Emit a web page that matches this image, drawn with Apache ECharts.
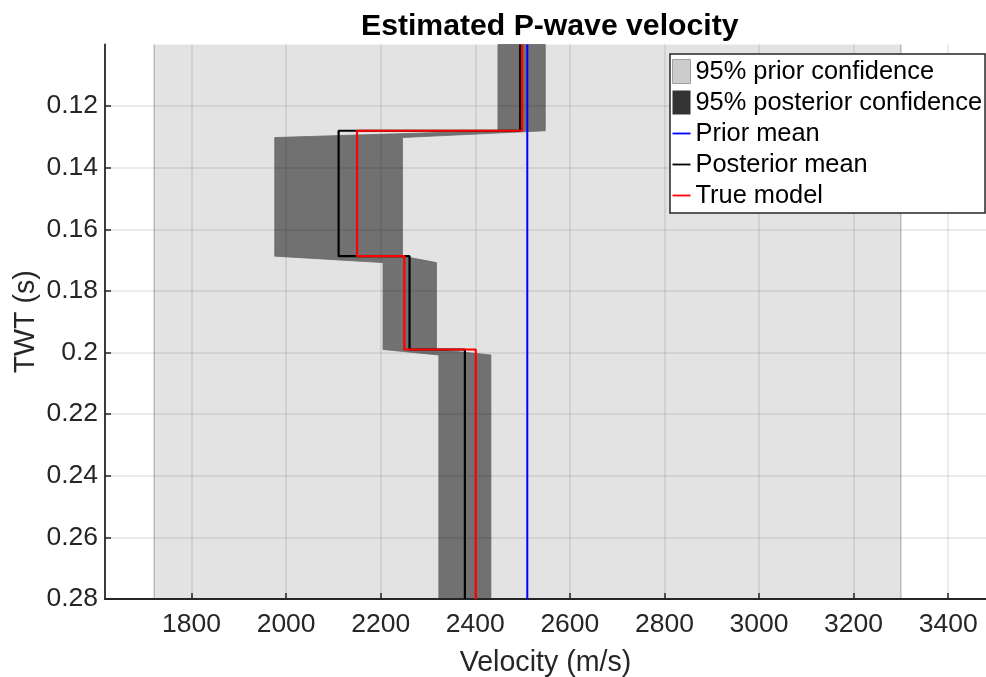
<!DOCTYPE html>
<html>
<head>
<meta charset="utf-8">
<script src="https://cdn.jsdelivr.net/npm/echarts@6/dist/echarts.min.js"></script>
<style>
  html, body { margin: 0; padding: 0; background: #fff; }
  #chart { width: 986px; height: 677px; }
</style>
</head>
<body>
<div id="chart"></div>
<script>
// ---- Data ----
const velocityTicks = [1800, 2000, 2200, 2400, 2600, 2800, 3000, 3200, 3400];
const twtTicks = [0.12, 0.14, 0.16, 0.18, 0.20, 0.22, 0.24, 0.26, 0.28];
const twtTickLabels = ['0.12', '0.14', '0.16', '0.18', '0.2', '0.22', '0.24', '0.26', '0.28'];

const priorLow = 1721;
const priorHigh = 3300;
const priorMean = 2510;

// layer boundaries (TWT, s) for the stair-step models
const layerTop = [0.100, 0.128, 0.1687, 0.199];
const layerBottom = [0.128, 0.1687, 0.199, 0.280];
const posteriorMean = [2495, 2111, 2261, 2378];
const trueModel = [2499, 2150, 2250, 2401];

// posterior 95% band (sampled; first / last sample of each layer)
const bandStart = [0.100, 0.1302, 0.1708, 0.2008];
const bandEnd = [0.128, 0.1687, 0.199, 0.280];
const posteriorLow = [2448, 1976, 2205, 2323];
const posteriorHigh = [2548, 2246, 2318, 2433];

const xMin = 1617, xMax = 3480;
const yMin = 0.10, yMax = 0.28;

// ---- Build series data ----
function stairs(values) {
  const pts = [];
  for (let i = 0; i < values.length; i++) {
    pts.push([values[i], layerTop[i]]);
    pts.push([values[i], layerBottom[i]]);
  }
  return pts;
}
const bandPolygon = [];
for (let i = 0; i < posteriorLow.length; i++) {
  bandPolygon.push([posteriorLow[i], bandStart[i]]);
  bandPolygon.push([posteriorLow[i], bandEnd[i]]);
}
for (let i = posteriorHigh.length - 1; i >= 0; i--) {
  bandPolygon.push([posteriorHigh[i], bandEnd[i]]);
  bandPolygon.push([posteriorHigh[i], bandStart[i]]);
}

const FONT = "'Liberation Sans', Arial, Helvetica, sans-serif";
const AX = '#262626';
const linePath = 'path://M0,0H20V2H0Z';

const chart = echarts.init(document.getElementById('chart'), null, { renderer: 'canvas' });

const option = {
  animation: false,
  backgroundColor: '#ffffff',
  title: {
    text: 'Estimated P-wave velocity',
    left: 361, top: 12, padding: 0,
    textStyle: { fontFamily: FONT, fontSize: 30.2, fontWeight: 'bold', color: '#000' }
  },
  grid: { left: 105, right: 0, top: 44.5, bottom: 78, containLabel: false, outerBoundsMode: 'none' },
  legend: {
    orient: 'vertical',
    left: 670, top: 54,
    padding: [5, 3, 5, 2],
    itemGap: 6, itemWidth: 18, itemHeight: 24,
    backgroundColor: '#fff', borderColor: AX, borderWidth: 1.5, borderRadius: 0,
    symbolKeepAspect: true,
    selectedMode: false,
    textStyle: { fontFamily: FONT, fontSize: 25.4, color: '#000', lineHeight: 24 },
    data: [
      { name: '95% prior confidence', icon: 'rect', itemStyle: { color: '#cccccc', borderColor: '#a0a0a0', borderWidth: 1 } },
      { name: '95% posterior confidence', icon: 'rect', itemStyle: { color: '#333333', borderWidth: 0 } },
      { name: 'Prior mean', icon: linePath, itemStyle: { color: '#0000ff', borderWidth: 0 } },
      { name: 'Posterior mean', icon: linePath, itemStyle: { color: '#000000', borderWidth: 0 } },
      { name: 'True model', icon: linePath, itemStyle: { color: '#ff0000', borderWidth: 0 } }
    ]
  },
  xAxis: {
    type: 'value', min: xMin, max: xMax, z: 3,
    name: 'Velocity (m/s)', nameLocation: 'middle', nameGap: 50, nameMoveOverlap: false,
    nameTextStyle: { fontFamily: FONT, fontSize: 28.6, color: AX },
    axisLine: { show: true, onZero: false, lineStyle: { color: AX, width: 1.8 } },
    axisTick: { show: true, inside: true, length: 6, customValues: velocityTicks, lineStyle: { color: AX, width: 1.5 } },
    axisLabel: {
      customValues: velocityTicks, margin: 12, fontFamily: FONT, fontSize: 26.5, color: AX,
      formatter: function (v) { return String(v); }
    },
    splitLine: { show: true, lineStyle: { color: 'rgba(0,0,0,0.1)', width: 1.5 } }
  },
  yAxis: {
    type: 'value', min: yMin, max: yMax, interval: 0.02, inverse: true, z: 3,
    name: 'TWT (s)', nameLocation: 'middle', nameGap: 64, nameMoveOverlap: false,
    nameTextStyle: { fontFamily: FONT, fontSize: 28.6, color: AX },
    axisLine: { show: true, onZero: false, lineStyle: { color: AX, width: 1.8 } },
    axisTick: { show: true, inside: true, length: 6, customValues: twtTicks, lineStyle: { color: AX, width: 1.5 } },
    axisLabel: {
      customValues: twtTicks,
      margin: 7, fontFamily: FONT, fontSize: 26.5, color: AX,
      formatter: function (v) {
        for (let i = 0; i < twtTicks.length; i++) {
          if (Math.abs(twtTicks[i] - v) < 1e-6) return twtTickLabels[i];
        }
        return '';
      }
    },
    splitLine: { show: true, lineStyle: { color: 'rgba(0,0,0,0.1)', width: 1.5 } }
  },
  series: [
    {
      name: '95% prior confidence',
      type: 'custom',
      coordinateSystem: 'cartesian2d',
      itemStyle: { color: '#cccccc' },
      data: [[priorLow, yMin, priorHigh, yMax]],
      renderItem: function (params, api) {
        const p0 = api.coord([api.value(0), api.value(1)]);
        const p1 = api.coord([api.value(2), api.value(3)]);
        return {
          type: 'group',
          children: [
            { type: 'rect', shape: { x: p0[0], y: p0[1], width: p1[0] - p0[0], height: p1[1] - p0[1] }, style: { fill: '#e3e3e3' } },
            { type: 'line', shape: { x1: p0[0], y1: p0[1], x2: p0[0], y2: p1[1] }, style: { stroke: '#a3a3a3', lineWidth: 1 } },
            { type: 'line', shape: { x1: p1[0], y1: p0[1], x2: p1[0], y2: p1[1] }, style: { stroke: '#a3a3a3', lineWidth: 1 } }
          ]
        };
      }
    },
    {
      name: '95% posterior confidence',
      type: 'custom',
      coordinateSystem: 'cartesian2d',
      itemStyle: { color: '#333333' },
      data: [[bandPolygon[0][0], bandPolygon[0][1]]],
      renderItem: function (params, api) {
        const pts = bandPolygon.map(p => api.coord(p));
        return {
          type: 'polygon',
          shape: { points: pts },
          style: { fill: '#717171', stroke: '#6a6a6a', lineWidth: 0.8 }
        };
      }
    },
    {
      name: 'Prior mean',
      type: 'line',
      showSymbol: false,
      color: '#0000ff',
      lineStyle: { color: '#0000ff', width: 2 },
      data: [[priorMean, yMin], [priorMean, yMax]]
    },
    {
      name: 'Posterior mean',
      type: 'line',
      showSymbol: false,
      color: '#000000',
      lineStyle: { color: '#000000', width: 2.2 },
      data: stairs(posteriorMean)
    },
    {
      name: 'True model',
      type: 'line',
      showSymbol: false,
      color: '#ff0000',
      lineStyle: { color: '#ff0000', width: 2.2 },
      data: stairs(trueModel)
    }
  ]
};
chart.setOption(option);
</script>
</body>
</html>
